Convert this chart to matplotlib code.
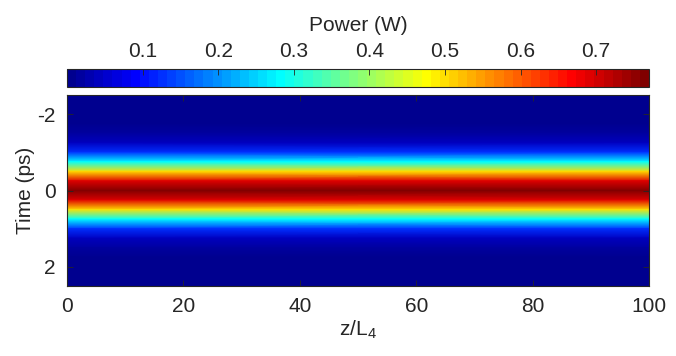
"""
Pulse power map along propagation distance: jet colour map, colorbar on top.
"""

import numpy as np
import matplotlib
matplotlib.use("Agg")
import matplotlib.pyplot as plt
from matplotlib.colors import ListedColormap

# Data (power profile is the same at every z)
z_points = [0, 100]
time_ps = [-2.5, -2.25, -2.0, -1.75, -1.5, -1.25, -1.0, -0.75, -0.5, -0.25, 0.0,
           0.25, 0.5, 0.75, 1.0, 1.25, 1.5, 1.75, 2.0, 2.25, 2.5]
power_w = [0.0, 0.0, 0.001, 0.003, 0.014, 0.048, 0.130, 0.283, 0.494, 0.689, 0.770,
           0.689, 0.494, 0.283, 0.130, 0.048, 0.014, 0.003, 0.001, 0.0, 0.0]
x_ticks = [0, 20, 40, 60, 80, 100]
y_ticks = [-2, 0, 2]
cbar_ticks = [0.1, 0.2, 0.3, 0.4, 0.5, 0.6, 0.7]

# Style constants
TEXT_COLOR = "#262626"
FONT_SIZE = 15
CLIM = (0.0, 0.77)

plt.rcParams["font.family"] = ["Liberation Sans", "DejaVu Sans"]
plt.rcParams["mathtext.default"] = "regular"
plt.rcParams["axes.unicode_minus"] = False
plt.rcParams["font.size"] = FONT_SIZE


def matlab_jet(n=64):
    """Same 64-step jet table as MATLAB builds it."""
    m = int(np.ceil(n / 4))
    u = np.concatenate([np.arange(1, m + 1) / m, np.ones(m - 1), np.arange(m, 0, -1) / m])
    g = int(np.ceil(m / 2)) - int(n % 4 == 1) + np.arange(1, len(u) + 1)
    r = g + m
    b = g - m
    r = r[r <= n]
    b = b[b >= 1]
    g_ok = g[g <= n]
    table = np.zeros((n, 3))
    table[r - 1, 0] = u[:len(r)]
    table[g_ok - 1, 1] = u[:len(g_ok)]
    table[b - 1, 2] = u[len(u) - len(b):]
    return ListedColormap(table)


cmap = matlab_jet(64)

fig = plt.figure(figsize=(6.76, 3.56), dpi=100)
ax = fig.add_axes([0.0991, 0.1966, 0.861, 0.5365])
cax = fig.add_axes([0.0991, 0.7556, 0.861, 0.0506])

Z, T = np.meshgrid(z_points, time_ps)
P = np.tile(np.array(power_w)[:, None], (1, len(z_points)))
mesh = ax.pcolormesh(Z, T, P, shading="gouraud", cmap=cmap,
                     vmin=CLIM[0], vmax=CLIM[1], rasterized=True)

ax.set_xlim(0, 100)
ax.set_ylim(2.5, -2.5)
ax.set_xticks(x_ticks)
ax.set_yticks(y_ticks)
ax.tick_params(direction="in", length=4, width=0.6, colors=TEXT_COLOR,
               top=True, right=True, labelsize=FONT_SIZE, pad=8)
ax.set_xlabel("z/L$_4$", color=TEXT_COLOR, fontsize=FONT_SIZE, labelpad=2)
ax.set_ylabel("Time (ps)", color=TEXT_COLOR, fontsize=FONT_SIZE, labelpad=2)
for sp in ax.spines.values():
    sp.set_color(TEXT_COLOR)
    sp.set_linewidth(0.8)

cb = fig.colorbar(mesh, cax=cax, orientation="horizontal", ticks=cbar_ticks)
cax.xaxis.set_ticks_position("top")
cax.xaxis.set_label_position("top")
cax.tick_params(direction="in", length=4, width=0.6, colors=TEXT_COLOR,
                labelsize=FONT_SIZE, pad=6)
cb.set_label("Power (W)", color=TEXT_COLOR, fontsize=FONT_SIZE, labelpad=8)
cb.outline.set_edgecolor(TEXT_COLOR)
cb.outline.set_linewidth(0.8)

fig.savefig("out.png", dpi=100)
plt.close(fig)
